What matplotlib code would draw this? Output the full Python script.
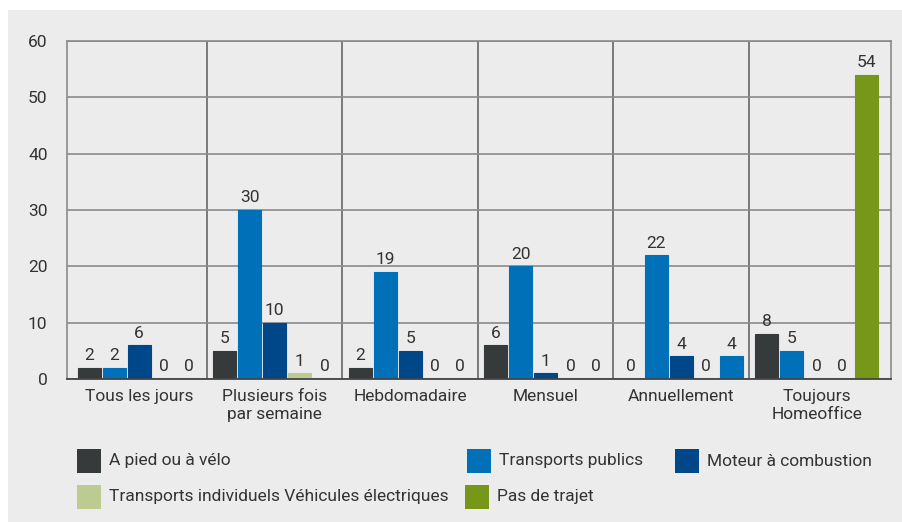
import numpy as np
import matplotlib
matplotlib.use('Agg')
import matplotlib.pyplot as plt
from matplotlib.patches import Rectangle

plt.rcParams['font.family'] = ['Roboto', 'DejaVu Sans']

# Données
categories = ['Tous les jours', 'Plusieurs fois\npar semaine', 'Hebdomadaire',
              'Mensuel', 'Annuellement', 'Toujours\nHomeoffice']
series_names = ['A pied ou à vélo', 'Transports publics', 'Moteur à combustion',
                'Transports individuels Véhicules électriques', 'Pas de trajet']
a_pied = [2, 5, 2, 6, 0, 8]
transports_publics = [2, 30, 19, 20, 22, 5]
moteur = [6, 10, 5, 1, 4, 0]
vehicules_elec = [0, 1, 0, 0, 0, 0]
pas_de_trajet = [0, 0, 0, 0, 4, 54]
values = [a_pied, transports_publics, moteur, vehicules_elec, pas_de_trajet]

colors = ['#363a3b', '#0070b8', '#00478a', '#bccb8f', '#76971a']
# dans l'original, la barre "Pas de trajet" d'Annuellement est en bleu
bar_colors = [[c] * len(categories) for c in colors]
bar_colors[4][4] = '#0070b8'

bg = '#ececec'
txt = '#333333'

fig = plt.figure(figsize=(9.02, 5.22), dpi=100)
fig.patch.set_facecolor('white')
fig.patches.append(Rectangle((8 / 902, 0), 1, (522 - 10) / 522, transform=fig.transFigure,
                             facecolor=bg, edgecolor='none', zorder=-10))

ax = fig.add_axes([67 / 902, 1 - 379 / 522, (891 - 67) / 902, (379 - 41) / 522])
ax.set_facecolor(bg)

x = np.arange(len(categories))
width = 0.170
pitch = 0.184
for i, (name, vals) in enumerate(zip(series_names, values)):
    pos = x + (i - 2) * pitch
    bars = ax.bar(pos, vals, width, color=bar_colors[i], edgecolor=bar_colors[i],
                  linewidth=0.8, zorder=3, label=name)
    for b, v in zip(bars, vals):
        ax.text(b.get_x() + b.get_width() / 2, v + 0.8, str(v), ha='center', va='bottom',
                fontsize=12.5, color=txt, zorder=4)

ax.set_xlim(-0.533, len(categories) - 0.452)
ax.set_ylim(0, 60)
ax.set_yticks(range(0, 61, 10))
ax.set_xticks(x)
ax.set_xticklabels(categories, fontsize=12.5, color=txt, linespacing=1.25)
ax.tick_params(axis='y', length=0, labelsize=12.5, labelcolor=txt, pad=14)
ax.tick_params(axis='x', length=0, pad=7)

ax.grid(axis='y', color='#8a8a8a', linewidth=1.2, zorder=0)
for b in np.arange(0.5, len(categories) - 0.5, 1):
    ax.axvline(b, color='#666666', linewidth=1.2, zorder=1)
for s in ['top', 'right', 'left']:
    ax.spines[s].set_color('#8a8a8a')
    ax.spines[s].set_linewidth(1.2)
ax.spines['bottom'].set_color('#444444')
ax.spines['bottom'].set_linewidth(1.3)
ax.spines['bottom'].set_zorder(5)

# Légende
legend_pos = [(77, 461), (467, 461), (675, 461), (77, 497), (465, 497)]
for (lx, ly), name, c in zip(legend_pos, series_names, colors):
    fig.patches.append(Rectangle((lx / 902, 1 - (ly + 12) / 522), 24 / 902, 24 / 522,
                                 transform=fig.transFigure, facecolor=c, edgecolor='none'))
    fig.text((lx + 32) / 902, 1 - ly / 522, name, fontsize=12.5, color=txt, va='center', ha='left')

plt.savefig('out.png', dpi=100, facecolor=fig.get_facecolor())
